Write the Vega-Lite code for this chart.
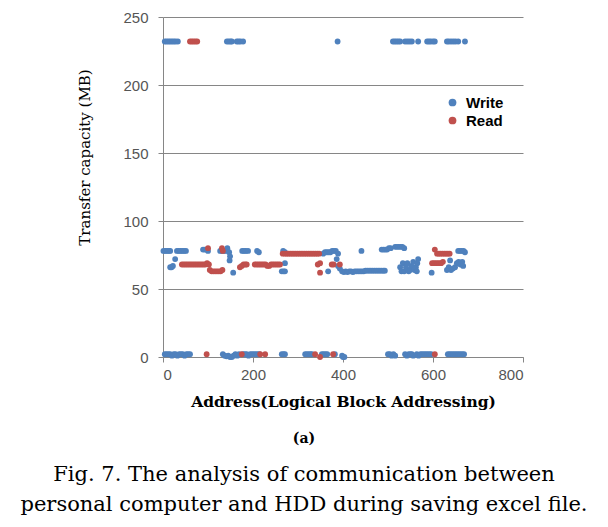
{
  "$schema": "https://vega.github.io/schema/vega-lite/v6.json",
  "width": 360,
  "height": 340,
  "autosize": {"type": "none"},
  "padding": {"left": 163, "top": 17, "right": 85, "bottom": 170},
  "background": "white",
  "config": {"view": {"stroke": null}},
  "title": {
    "text": "(a)",
    "orient": "bottom",
    "anchor": "middle",
    "dx": -39,
    "font": "DejaVu Serif",
    "fontSize": 14,
    "fontWeight": "bold",
    "color": "#000000",
    "offset": 22,
    "subtitle": ["Fig. 7. The analysis of communication between", "personal computer and HDD during saving excel file."],
    "subtitleFont": "DejaVu Serif",
    "subtitleFontSize": 21,
    "subtitleColor": "#000000",
    "subtitlePadding": 18,
    "subtitleLineHeight": 30
  },
  "data": {"values": [
    {"x":4,"y":232,"s":"Write"},{"x":8,"y":232,"s":"Write"},{"x":12,"y":232,"s":"Write"},{"x":16,"y":232,"s":"Write"},{"x":20,"y":232,"s":"Write"},{"x":24,"y":232,"s":"Write"},{"x":28,"y":232,"s":"Write"},{"x":33,"y":232,"s":"Write"},
    {"x":142,"y":232,"s":"Write"},{"x":146,"y":232,"s":"Write"},{"x":150,"y":232,"s":"Write"},{"x":153,"y":232,"s":"Write"},{"x":164,"y":232,"s":"Write"},{"x":168,"y":232,"s":"Write"},{"x":172,"y":232,"s":"Write"},{"x":178,"y":232,"s":"Write"},
    {"x":388,"y":232,"s":"Write"},{"x":511,"y":232,"s":"Write"},{"x":515,"y":232,"s":"Write"},{"x":519,"y":232,"s":"Write"},{"x":523,"y":232,"s":"Write"},{"x":527,"y":232,"s":"Write"},{"x":538,"y":232,"s":"Write"},{"x":543,"y":232,"s":"Write"},{"x":548,"y":232,"s":"Write"},{"x":553,"y":232,"s":"Write"},{"x":567,"y":232,"s":"Write"},
    {"x":587,"y":232,"s":"Write"},{"x":591,"y":232,"s":"Write"},{"x":595,"y":232,"s":"Write"},{"x":600,"y":232,"s":"Write"},{"x":604,"y":232,"s":"Write"},{"x":631,"y":232,"s":"Write"},{"x":635,"y":232,"s":"Write"},{"x":640,"y":232,"s":"Write"},{"x":645,"y":232,"s":"Write"},{"x":650,"y":232,"s":"Write"},{"x":656,"y":232,"s":"Write"},{"x":671,"y":232,"s":"Write"},
    {"x":1,"y":78,"s":"Write"},{"x":5,"y":78,"s":"Write"},{"x":9,"y":78,"s":"Write"},{"x":13,"y":78,"s":"Write"},{"x":16,"y":78,"s":"Write"},{"x":31,"y":78,"s":"Write"},{"x":35,"y":78,"s":"Write"},{"x":39,"y":78,"s":"Write"},{"x":43,"y":78,"s":"Write"},{"x":47,"y":78,"s":"Write"},{"x":51,"y":78,"s":"Write"},
    {"x":89,"y":79,"s":"Write"},{"x":93,"y":79,"s":"Write"},{"x":97,"y":79,"s":"Write"},{"x":100,"y":78,"s":"Write"},{"x":127,"y":78,"s":"Write"},{"x":131,"y":78,"s":"Write"},{"x":135,"y":78,"s":"Write"},{"x":140,"y":78,"s":"Write"},{"x":143,"y":80,"s":"Write"},{"x":147,"y":77,"s":"Write"},{"x":149,"y":74,"s":"Write"},{"x":148,"y":71,"s":"Write"},
    {"x":176,"y":78,"s":"Write"},{"x":180,"y":78,"s":"Write"},{"x":184,"y":78,"s":"Write"},{"x":189,"y":78,"s":"Write"},{"x":209,"y":78,"s":"Write"},{"x":213,"y":77,"s":"Write"},{"x":267,"y":78,"s":"Write"},{"x":271,"y":77,"s":"Write"},
    {"x":356,"y":76,"s":"Write"},{"x":360,"y":77,"s":"Write"},{"x":364,"y":77,"s":"Write"},{"x":368,"y":77,"s":"Write"},{"x":372,"y":77,"s":"Write"},{"x":376,"y":78,"s":"Write"},{"x":380,"y":78,"s":"Write"},{"x":384,"y":78,"s":"Write"},{"x":389,"y":76,"s":"Write"},
    {"x":441,"y":78,"s":"Write"},{"x":486,"y":79,"s":"Write"},{"x":490,"y":79,"s":"Write"},{"x":494,"y":79,"s":"Write"},{"x":498,"y":79,"s":"Write"},{"x":502,"y":80,"s":"Write"},{"x":506,"y":80,"s":"Write"},{"x":516,"y":81,"s":"Write"},{"x":520,"y":81,"s":"Write"},{"x":524,"y":81,"s":"Write"},{"x":528,"y":81,"s":"Write"},{"x":532,"y":81,"s":"Write"},{"x":536,"y":80,"s":"Write"},
    {"x":656,"y":78,"s":"Write"},{"x":660,"y":78,"s":"Write"},{"x":664,"y":78,"s":"Write"},{"x":668,"y":78,"s":"Write"},{"x":671,"y":77,"s":"Write"},
    {"x":16,"y":66,"s":"Write"},{"x":19,"y":66,"s":"Write"},{"x":22,"y":67,"s":"Write"},{"x":27,"y":72,"s":"Write"},{"x":156,"y":62,"s":"Write"},{"x":264,"y":63,"s":"Write"},{"x":268,"y":63,"s":"Write"},{"x":271,"y":69,"s":"Write"},{"x":271,"y":63,"s":"Write"},{"x":367,"y":63,"s":"Write"},{"x":386,"y":72,"s":"Write"},{"x":389,"y":67,"s":"Write"},{"x":393,"y":65,"s":"Write"},
    {"x":398,"y":63,"s":"Write"},{"x":402,"y":62.5,"s":"Write"},{"x":406,"y":63,"s":"Write"},{"x":410,"y":62.5,"s":"Write"},{"x":414,"y":63,"s":"Write"},{"x":418,"y":63,"s":"Write"},{"x":422,"y":62.5,"s":"Write"},{"x":426,"y":63,"s":"Write"},{"x":430,"y":63,"s":"Write"},{"x":434,"y":63,"s":"Write"},{"x":438,"y":63,"s":"Write"},{"x":442,"y":63,"s":"Write"},{"x":446,"y":63,"s":"Write"},{"x":450,"y":63.5,"s":"Write"},{"x":454,"y":63.5,"s":"Write"},{"x":458,"y":63.5,"s":"Write"},{"x":462,"y":63.5,"s":"Write"},{"x":466,"y":63.5,"s":"Write"},{"x":470,"y":63.5,"s":"Write"},{"x":474,"y":63.5,"s":"Write"},{"x":478,"y":63.5,"s":"Write"},{"x":482,"y":63.5,"s":"Write"},{"x":486,"y":63.5,"s":"Write"},{"x":490,"y":63.5,"s":"Write"},{"x":493,"y":63.5,"s":"Write"},
    {"x":527,"y":66,"s":"Write"},{"x":530,"y":63,"s":"Write"},{"x":533,"y":69,"s":"Write"},{"x":536,"y":63,"s":"Write"},{"x":540,"y":66,"s":"Write"},{"x":543,"y":69,"s":"Write"},{"x":546,"y":63,"s":"Write"},{"x":549,"y":64,"s":"Write"},{"x":552,"y":67,"s":"Write"},{"x":556,"y":70,"s":"Write"},{"x":559,"y":64,"s":"Write"},{"x":562,"y":66,"s":"Write"},{"x":564,"y":63,"s":"Write"},{"x":567,"y":72,"s":"Write"},{"x":565,"y":69,"s":"Write"},
    {"x":597,"y":62,"s":"Write"},{"x":631,"y":64,"s":"Write"},{"x":635,"y":66,"s":"Write"},{"x":638,"y":71,"s":"Write"},{"x":640,"y":64,"s":"Write"},{"x":644,"y":65,"s":"Write"},{"x":649,"y":66,"s":"Write"},{"x":653,"y":69,"s":"Write"},{"x":657,"y":70,"s":"Write"},{"x":661,"y":68,"s":"Write"},{"x":665,"y":70,"s":"Write"},{"x":667,"y":67,"s":"Write"},
    {"x":4,"y":2,"s":"Write"},{"x":8,"y":2,"s":"Write"},{"x":12,"y":2,"s":"Write"},{"x":16,"y":2,"s":"Write"},{"x":20,"y":1,"s":"Write"},{"x":24,"y":2,"s":"Write"},{"x":28,"y":2,"s":"Write"},{"x":32,"y":1,"s":"Write"},{"x":36,"y":2,"s":"Write"},{"x":40,"y":2,"s":"Write"},{"x":44,"y":2,"s":"Write"},{"x":48,"y":1,"s":"Write"},{"x":52,"y":2,"s":"Write"},{"x":56,"y":2,"s":"Write"},{"x":60,"y":2,"s":"Write"},
    {"x":133,"y":2,"s":"Write"},{"x":137,"y":1,"s":"Write"},{"x":141,"y":0.5,"s":"Write"},{"x":145,"y":1,"s":"Write"},{"x":149,"y":0,"s":"Write"},{"x":153,"y":0,"s":"Write"},{"x":157,"y":1,"s":"Write"},{"x":161,"y":2,"s":"Write"},{"x":165,"y":1,"s":"Write"},{"x":169,"y":2,"s":"Write"},{"x":178,"y":2,"s":"Write"},{"x":182,"y":2,"s":"Write"},{"x":186,"y":2,"s":"Write"},{"x":190,"y":1,"s":"Write"},{"x":194,"y":2,"s":"Write"},{"x":198,"y":2,"s":"Write"},{"x":202,"y":2,"s":"Write"},{"x":206,"y":2,"s":"Write"},{"x":210,"y":2,"s":"Write"},{"x":214,"y":2,"s":"Write"},
    {"x":264,"y":2,"s":"Write"},{"x":268,"y":2,"s":"Write"},{"x":271,"y":2,"s":"Write"},{"x":316,"y":2,"s":"Write"},{"x":320,"y":2,"s":"Write"},{"x":324,"y":2,"s":"Write"},{"x":328,"y":2,"s":"Write"},{"x":331,"y":2,"s":"Write"},{"x":353,"y":2,"s":"Write"},{"x":357,"y":2,"s":"Write"},{"x":361,"y":2,"s":"Write"},{"x":365,"y":2,"s":"Write"},{"x":382,"y":2,"s":"Write"},{"x":398,"y":1,"s":"Write"},{"x":400,"y":0,"s":"Write"},{"x":403,"y":0,"s":"Write"},
    {"x":500,"y":2,"s":"Write"},{"x":504,"y":2,"s":"Write"},{"x":508,"y":1,"s":"Write"},{"x":512,"y":2,"s":"Write"},{"x":516,"y":1,"s":"Write"},{"x":538,"y":2,"s":"Write"},{"x":542,"y":1,"s":"Write"},{"x":546,"y":2,"s":"Write"},{"x":550,"y":2,"s":"Write"},{"x":553,"y":2,"s":"Write"},{"x":556,"y":1,"s":"Write"},
    {"x":564,"y":2,"s":"Write"},{"x":568,"y":1,"s":"Write"},{"x":572,"y":2,"s":"Write"},{"x":576,"y":2,"s":"Write"},{"x":580,"y":2,"s":"Write"},{"x":584,"y":2,"s":"Write"},{"x":588,"y":2,"s":"Write"},{"x":592,"y":2,"s":"Write"},{"x":596,"y":2,"s":"Write"},
    {"x":633,"y":2,"s":"Write"},{"x":637,"y":2,"s":"Write"},{"x":641,"y":2,"s":"Write"},{"x":645,"y":2,"s":"Write"},{"x":649,"y":2,"s":"Write"},{"x":653,"y":2,"s":"Write"},{"x":657,"y":2,"s":"Write"},{"x":661,"y":2,"s":"Write"},{"x":665,"y":2,"s":"Write"},{"x":669,"y":2,"s":"Write"},
    {"x":60,"y":232,"s":"Read"},{"x":64,"y":232,"s":"Read"},{"x":68,"y":232,"s":"Read"},{"x":72,"y":232,"s":"Read"},{"x":76,"y":232,"s":"Read"},
    {"x":42,"y":68,"s":"Read"},{"x":46,"y":68,"s":"Read"},{"x":50,"y":68,"s":"Read"},{"x":54,"y":68,"s":"Read"},{"x":58,"y":68,"s":"Read"},{"x":62,"y":68,"s":"Read"},{"x":66,"y":68,"s":"Read"},{"x":70,"y":68,"s":"Read"},{"x":74,"y":68,"s":"Read"},{"x":78,"y":68,"s":"Read"},{"x":82,"y":68,"s":"Read"},{"x":86,"y":68,"s":"Read"},{"x":90,"y":68,"s":"Read"},{"x":94,"y":68,"s":"Read"},{"x":98,"y":69,"s":"Read"},{"x":102,"y":68,"s":"Read"},
    {"x":104,"y":64,"s":"Read"},{"x":108,"y":63,"s":"Read"},{"x":112,"y":63,"s":"Read"},{"x":116,"y":63,"s":"Read"},{"x":120,"y":63,"s":"Read"},{"x":124,"y":63,"s":"Read"},{"x":128,"y":63,"s":"Read"},{"x":132,"y":64,"s":"Read"},
    {"x":100,"y":80,"s":"Read"},{"x":131,"y":80,"s":"Read"},{"x":133,"y":78,"s":"Read"},
    {"x":171,"y":66,"s":"Read"},{"x":175,"y":67,"s":"Read"},{"x":179,"y":68,"s":"Read"},{"x":183,"y":68,"s":"Read"},{"x":186,"y":68,"s":"Read"},
    {"x":204,"y":68,"s":"Read"},{"x":208,"y":68,"s":"Read"},{"x":212,"y":68,"s":"Read"},{"x":216,"y":68,"s":"Read"},{"x":220,"y":68,"s":"Read"},{"x":224,"y":68,"s":"Read"},{"x":228,"y":68,"s":"Read"},{"x":232,"y":67,"s":"Read"},{"x":236,"y":67,"s":"Read"},{"x":240,"y":68,"s":"Read"},{"x":244,"y":68,"s":"Read"},{"x":248,"y":68,"s":"Read"},{"x":252,"y":68,"s":"Read"},{"x":256,"y":68,"s":"Read"},{"x":260,"y":68,"s":"Read"},
    {"x":266,"y":76,"s":"Read"},{"x":271,"y":76,"s":"Read"},{"x":275,"y":76,"s":"Read"},{"x":279,"y":76,"s":"Read"},{"x":283,"y":76,"s":"Read"},{"x":287,"y":76,"s":"Read"},{"x":291,"y":76,"s":"Read"},{"x":295,"y":76,"s":"Read"},{"x":299,"y":76,"s":"Read"},{"x":303,"y":76,"s":"Read"},{"x":307,"y":76,"s":"Read"},{"x":311,"y":76,"s":"Read"},{"x":315,"y":76,"s":"Read"},{"x":319,"y":76,"s":"Read"},{"x":323,"y":76,"s":"Read"},{"x":327,"y":76,"s":"Read"},{"x":331,"y":76,"s":"Read"},{"x":335,"y":76,"s":"Read"},{"x":339,"y":76,"s":"Read"},{"x":343,"y":76,"s":"Read"},{"x":347,"y":76,"s":"Read"},
    {"x":344,"y":68,"s":"Read"},{"x":349,"y":69,"s":"Read"},{"x":349,"y":62,"s":"Read"},{"x":375,"y":68,"s":"Read"},{"x":379,"y":68,"s":"Read"},{"x":393,"y":68,"s":"Read"},
    {"x":604,"y":79,"s":"Read"},{"x":609,"y":76,"s":"Read"},{"x":613,"y":76,"s":"Read"},{"x":617,"y":76,"s":"Read"},{"x":621,"y":76,"s":"Read"},{"x":625,"y":76,"s":"Read"},{"x":629,"y":76,"s":"Read"},{"x":633,"y":76,"s":"Read"},{"x":637,"y":76,"s":"Read"},
    {"x":598,"y":69,"s":"Read"},{"x":602,"y":69,"s":"Read"},{"x":606,"y":69,"s":"Read"},{"x":610,"y":69,"s":"Read"},{"x":614,"y":69,"s":"Read"},{"x":618,"y":69,"s":"Read"},{"x":622,"y":70,"s":"Read"},
    {"x":97,"y":2,"s":"Read"},{"x":175,"y":2,"s":"Read"},{"x":216,"y":2,"s":"Read"},{"x":227,"y":2,"s":"Read"},{"x":338,"y":2,"s":"Read"},{"x":349,"y":0,"s":"Read"},{"x":378,"y":2,"s":"Read"},{"x":604,"y":2,"s":"Read"}
  ]},
  "mark": {"type": "point", "shape": "circle", "filled": true, "opacity": 1, "size": 34},
  "encoding": {
    "x": {
      "field": "x", "type": "quantitative",
      "scale": {"domain": [0, 800], "nice": false},
      "axis": {
        "values": [0, 200, 400, 600, 800],
        "grid": false,
        "title": "Address(Logical Block Addressing)",
        "titleFont": "DejaVu Serif", "titleFontSize": 15.5, "titleFontWeight": "bold", "titleColor": "#000000", "titlePadding": 12,
        "labelFont": "Liberation Sans", "labelFontSize": 15, "labelColor": "#555555", "labelPadding": 5,
        "domainColor": "#868686", "tickColor": "#868686", "tickSize": 5
      }
    },
    "y": {
      "field": "y", "type": "quantitative",
      "scale": {"domain": [0, 250], "nice": false},
      "axis": {
        "values": [0, 50, 100, 150, 200, 250],
        "grid": true, "gridColor": "#868686",
        "title": "Transfer capacity (MB)",
        "titleFont": "DejaVu Serif", "titleFontSize": 15, "titleFontWeight": "normal", "titleColor": "#000000", "titlePadding": 30,
        "titleY": 140,
        "labelFont": "Liberation Sans", "labelFontSize": 15, "labelColor": "#555555", "labelPadding": 10,
        "domainColor": "#868686", "tickColor": "#868686", "tickSize": 5
      }
    },
    "color": {
      "field": "s", "type": "nominal",
      "scale": {"domain": ["Write", "Read"], "range": ["#4F81BD", "#C0504D"]},
      "legend": {
        "title": null, "orient": "none", "legendX": 282, "legendY": 78,
        "labelFont": "Liberation Sans", "labelFontSize": 15, "labelFontWeight": "bold", "labelColor": "#000000",
        "symbolType": "circle", "symbolSize": 60, "rowPadding": 2, "labelOffset": 6
      }
    }
  }
}
